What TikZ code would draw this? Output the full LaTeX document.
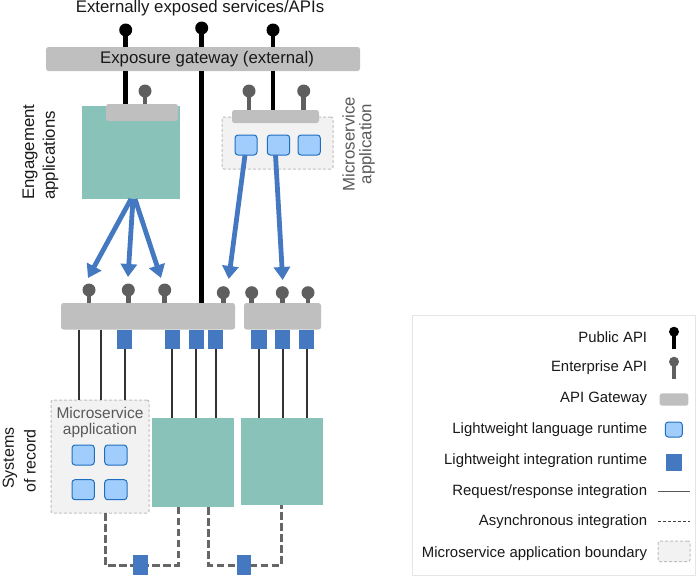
\documentclass[tikz,border=0pt]{standalone}
\usepackage{fontspec}
\setmainfont{Liberation Sans}
\usetikzlibrary{arrows.meta,calc}
\definecolor{teal1}{HTML}{89C2B8}
\definecolor{gw}{HTML}{BFBFBF}
\definecolor{pingray}{HTML}{5F5F5F}
\definecolor{intblue}{HTML}{4478C0}
\definecolor{langfill}{HTML}{A0CDFC}
\definecolor{langline}{HTML}{1F6FC0}
\definecolor{bound}{HTML}{F2F2F2}
\definecolor{dashc}{HTML}{666666}
\tikzset{
  gateway/.style={fill=gw,rounded corners=2.5pt},
  app/.style={fill=teal1},
  lang/.style={fill=langfill,draw=langline,line width=1pt,rounded corners=3pt},
  integ/.style={fill=intblue},
  boundary/.style={fill=bound,draw=gw,line width=1pt,dash pattern=on 3pt off 2pt,rounded corners=2pt},
  pubhead/.style={circle,fill=black,minimum size=13pt,inner sep=0pt},
  enthead/.style={circle,fill=pingray,minimum size=13pt,inner sep=0pt},
  pubstem/.style={draw=black,line width=4.5pt},
  entstem/.style={draw=pingray,line width=4.5pt},
  call/.style={draw=intblue,line width=4.8pt,-{Triangle[length=13pt,width=16pt]}},
  req/.style={draw=black!80,line width=1.9pt},
  async/.style={draw=dashc,line width=3pt,dash pattern=on 7.5pt off 3.5pt},
  big/.style={font=\fontsize{16.8}{20}\selectfont,text=black!90,inner sep=0pt},
  sidegray/.style={font=\fontsize{16.8}{20}\selectfont,text=black!65,inner sep=0pt},
  grayt/.style={font=\fontsize{15.5}{18}\selectfont,text=black!65,inner sep=0pt},
  sor/.style={font=\fontsize{16}{20}\selectfont,text=black!90,inner sep=0pt},
  leg/.style={font=\fontsize{14.9}{17}\selectfont,anchor=east,text=black!90,inner sep=0pt},
}
\newcommand{\bx}[6][]{%
  \pgfmathsetmacro{\cxa}{(#3+#5)/2}\pgfmathsetmacro{\cya}{(#4+#6)/2}%
  \pgfmathsetmacro{\wa}{#5-#3}\pgfmathsetmacro{\ha}{#6-#4}%
  \node[#2,inner sep=0pt,outer sep=0pt,minimum width=\wa pt,minimum height=\ha pt] (#1) at (\cxa,\cya) {};}
\begin{document}
\begin{tikzpicture}[x=1pt,y=-1pt]
\useasboundingbox (0,0) rectangle (700,576);
% top label
\node[big,anchor=center] (toplabel) at (200,8.5) {Externally exposed services/APIs};
% apps
\bx[eng]{app}{82}{106}{180}{199}
\bx[sor1]{app}{152}{418}{234}{507}
\bx[sor2]{app}{241}{418}{323}{505}
\bx[mbt]{boundary}{222}{117}{333}{169}
\bx[mbb]{boundary}{51}{400}{149}{513}
% public api stems
\coordinate (p1) at (125.7,30);
\coordinate (p2) at (201.7,28);
\coordinate (p3) at (273,30);
% gateways
\bx[ggw]{gateway}{46}{47}{360}{71}
\bx[egw]{gateway}{106}{104}{178}{121}
\bx[mgw]{gateway}{232}{110}{319}{123}
\bx[lgw]{gateway}{61}{303}{235}{329.5}
\bx[rgw]{gateway}{244}{303}{321}{329.5}
\path[pubstem] (p1) -- (p1 |- ggw.north);
\path[pubstem] (p2) -- (p2 |- ggw.north);
\path[pubstem] (p3) -- (p3 |- ggw.north);
\path[pubstem] (p1 |- ggw.south) -- (p1 |- egw.north);
\path[pubstem] (p2 |- ggw.south) -- (p2 |- lgw.north);
\path[pubstem] (p3 |- ggw.south) -- (p3 |- mgw.north);
\node[pubhead] (ph1) at (p1) {};
\node[pubhead] (ph2) at (p2) {};
\node[pubhead] (ph3) at (p3) {};
\node[big] (gwtext) at (207,59.5) {Exposure gateway (external)};
% enterprise pins
\foreach \n/\x/\y/\g in {e1/145/91/egw,e2/249/91/mgw,e3/303.7/91/mgw,
   a/89/290/lgw,b/128.3/290/lgw,c/164.7/290/lgw,d/223.3/292.7/lgw,
   f/251.7/292.7/rgw,g/282.3/292.7/rgw,h/308/292.7/rgw}{
  \node[enthead] (\n) at (\x,\y) {};
  \path[entstem] (\n.center) -- (\n.center |- \g.north);
}
% language runtimes
\bx[l1]{lang}{235}{135}{257}{155}
\bx[l2]{lang}{267.3}{135}{289.7}{155}
\bx[l3]{lang}{298}{135}{320.3}{155}
\bx[l4]{lang}{72}{445}{94.3}{465}
\bx[l5]{lang}{104.7}{445}{127}{465}
\bx[l6]{lang}{72}{479.7}{94.3}{499.7}
\bx[l7]{lang}{104.7}{479.7}{127}{499.7}
% integration runtimes
\bx[i1]{integ}{117}{329.5}{132.3}{349}
\bx[i2]{integ}{164.7}{329.5}{180}{349}
\bx[i3]{integ}{188.7}{329.5}{203.7}{349}
\bx[i4]{integ}{208.3}{329.5}{223.3}{349}
\bx[i5]{integ}{251.3}{329.5}{266.7}{349}
\bx[i6]{integ}{275.3}{329.5}{290.3}{349}
\bx[i7]{integ}{299.3}{329.5}{314.3}{349}
% request/response lines
\coordinate (r1) at (79,329.5);
\coordinate (r2) at (100.7,329.5);
\path[req] (r1) -- (r1 |- mbb.north);
\path[req] (r2) -- (r2 |- mbb.north);
\path[req] (i1.south) -- (i1.south |- mbb.north);
\path[req] (i2.south) -- (i2.south |- sor1.north);
\path[req] (i3.south) -- (i3.south |- sor1.north);
\path[req] (i4.south) -- (i4.south |- sor1.north);
\path[req] (i5.south) -- (i5.south |- sor2.north);
\path[req] (i6.south) -- (i6.south |- sor2.north);
\path[req] (i7.south) -- (i7.south |- sor2.north);
% calls
\coordinate (es1) at (131,199);
\coordinate (es2) at (133,199);
\coordinate (es3) at (135,199);
\coordinate (ta) at (88,278); \coordinate (tb) at (128,277); \coordinate (tc) at (161,278);
\coordinate (td) at (228.7,279); \coordinate (tg) at (282.7,280);
\path[call] (es1) -- (ta);
\path[call] (es2) -- (tb);
\path[call] (es3) -- (tc);
\path[call] ($(l1.south)+(-1,0)$) -- (td);
\path[call] ($(l2.south)+(-3,0)$) -- (tg);
% async
\coordinate (k1) at (105.3,565);
\coordinate (k2) at (178.3,565);
\coordinate (k3) at (208.7,565);
\coordinate (k4) at (281.3,565);
\path[async] (k1 |- mbb.south) -- (k1) -- (k2) -- (k2 |- sor1.south);
\path[async] (k3 |- sor1.south) -- (k3) -- (k4) -- (k4 |- sor2.south);
\bx[q1]{integ}{133.3}{555.3}{148}{574.7}
\bx[q2]{integ}{236.7}{555.3}{251.3}{574.7}
% side labels
\node[big,rotate=90,anchor=west] (t1) at (30,200) {Engagement};
\node[big,rotate=90,anchor=west] (t2) at (50.5,200) {applications};
\node[sidegray,rotate=90] (t3) at (348.5,144) {Microservice};
\node[sidegray,rotate=90] (t4) at (367,144) {application};
\node[sor,rotate=90] (t5) at (10,458) {Systems};
\node[sor,rotate=90] (t6) at (30,461) {of record};
\node[grayt] (t7) at (100,412.7) {Microservice};
\node[grayt] (t8) at (100,430) {application};
% legend
\bx[legend]{fill=white,draw=black!10,line width=1pt}{412.5}{315}{695.5}{575.5}
\node[leg] (n1) at (647.3,336.7) {Public API};
\node[leg] (n2) at (647.3,367.7) {Enterprise API};
\node[leg] (n3) at (647.3,399) {API Gateway};
\node[leg] (n4) at (647.3,429.3) {Lightweight language runtime};
\node[leg] (n5) at (647.3,460.3) {Lightweight integration runtime};
\node[leg] (n6) at (647.3,491.3) {Request/response integration};
\node[leg] (n7) at (647.3,522) {Asynchronous integration};
\node[leg] (n8) at (647.3,553.3) {Microservice application boundary};
\coordinate (s1) at (674,349);
\coordinate (s2) at (674,379);
\node[circle,fill=black,minimum size=10pt,inner sep=0pt] (lp1) at (674,331.7) {};
\path[draw=black,line width=3.5pt] (lp1.center) -- (s1);
\node[circle,fill=pingray,minimum size=10pt,inner sep=0pt] (lp2) at (674,361.7) {};
\path[draw=pingray,line width=3.5pt] (lp2.center) -- (s2);
\bx[lg]{gateway}{659.7}{393.3}{688.3}{405.7}
\bx[ll]{lang}{665.3}{422}{682.3}{437}
\bx[li]{integ}{666.3}{454}{681.7}{471}
\coordinate (ra) at (658,491.7); \coordinate (rb) at (690,491.7);
\path[draw=black!65,line width=1.2pt] (ra) -- (rb);
\coordinate (da) at (658,521.7); \coordinate (db) at (690,521.7);
\path[draw=black!75,line width=1pt,dash pattern=on 3pt off 2pt] (da) -- (db);
\bx[lb]{boundary}{658}{541}{690}{561.7}
\end{tikzpicture}
\end{document}
